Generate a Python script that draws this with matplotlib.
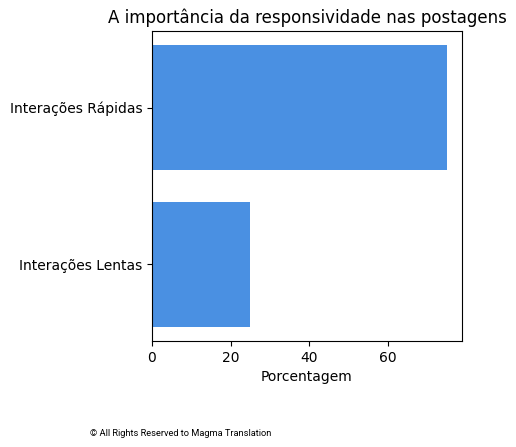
import matplotlib.pyplot as plt

categories = ["Interações Lentas", "Interações Rápidas"]
percentages = [25, 75]

fig = plt.figure(figsize=(5.16, 4.47), dpi=100)
ax = fig.add_axes([152 / 516, 106 / 447, 310 / 516, 310 / 447])

ax.barh(categories, percentages, color="#4a90e2")
ax.set_xlabel("Porcentagem")
ax.set_title("A importância da responsividade nas postagens")

fig.text(90 / 516, 1 - 433 / 447, "© All Rights Reserved to Magma Translation",
         fontsize=6.7, family="Roboto", va="center")

plt.savefig("out.png", dpi=100)
plt.close()
